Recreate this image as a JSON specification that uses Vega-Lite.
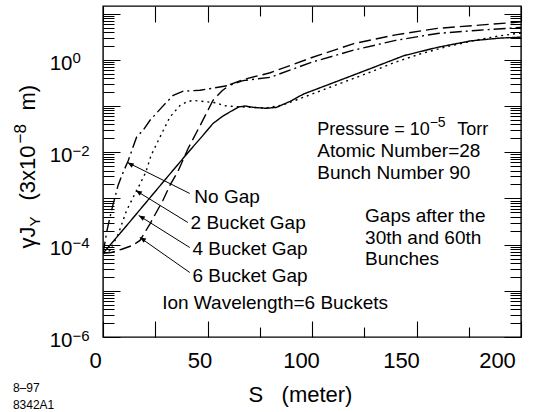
{
  "$schema": "https://vega.github.io/schema/vega-lite/v6.json",
  "width": 418,
  "height": 331,
  "autosize": {"type": "none"},
  "padding": {"left": 103, "top": 6, "right": 20, "bottom": 75},
  "config": {
    "view": {"stroke": "#000", "strokeWidth": 1.4},
    "font": "Liberation Sans",
    "text": {"font": "Liberation Sans", "color": "#000"}
  },
  "datasets": {
    "curves": [
      {"series": "No Gap", "s": 0, "v": 6.46e-5},
      {"series": "No Gap", "s": 1.9, "v": 2.0e-4},
      {"series": "No Gap", "s": 4.3, "v": 6.03e-4},
      {"series": "No Gap", "s": 7.2, "v": 1.91e-3},
      {"series": "No Gap", "s": 9.5, "v": 3.55e-3},
      {"series": "No Gap", "s": 12.1, "v": 6.61e-3},
      {"series": "No Gap", "s": 16.1, "v": 0.0214},
      {"series": "No Gap", "s": 19.1, "v": 0.0295},
      {"series": "No Gap", "s": 22.5, "v": 0.049},
      {"series": "No Gap", "s": 28.1, "v": 0.0933},
      {"series": "No Gap", "s": 33.6, "v": 0.17},
      {"series": "No Gap", "s": 38.4, "v": 0.209},
      {"series": "No Gap", "s": 46.4, "v": 0.219},
      {"series": "No Gap", "s": 54.4, "v": 0.251},
      {"series": "No Gap", "s": 60.8, "v": 0.282},
      {"series": "No Gap", "s": 67, "v": 0.355},
      {"series": "No Gap", "s": 80, "v": 0.417},
      {"series": "No Gap", "s": 100, "v": 0.891},
      {"series": "No Gap", "s": 120, "v": 1.62},
      {"series": "No Gap", "s": 140, "v": 2.63},
      {"series": "No Gap", "s": 160, "v": 3.72},
      {"series": "No Gap", "s": 180, "v": 4.37},
      {"series": "No Gap", "s": 200, "v": 5.01},
      {"series": "2 Bucket Gap", "s": 0, "v": 6.46e-5},
      {"series": "2 Bucket Gap", "s": 3.3, "v": 7.41e-5},
      {"series": "2 Bucket Gap", "s": 7.3, "v": 1.7e-4},
      {"series": "2 Bucket Gap", "s": 11.3, "v": 5.5e-4},
      {"series": "2 Bucket Gap", "s": 15.3, "v": 1.26e-3},
      {"series": "2 Bucket Gap", "s": 17.7, "v": 2.04e-3},
      {"series": "2 Bucket Gap", "s": 20.5, "v": 3.72e-3},
      {"series": "2 Bucket Gap", "s": 23, "v": 8.51e-3},
      {"series": "2 Bucket Gap", "s": 27.3, "v": 0.0214},
      {"series": "2 Bucket Gap", "s": 32, "v": 0.0575},
      {"series": "2 Bucket Gap", "s": 36.8, "v": 0.102},
      {"series": "2 Bucket Gap", "s": 40, "v": 0.123},
      {"series": "2 Bucket Gap", "s": 43.2, "v": 0.132},
      {"series": "2 Bucket Gap", "s": 49.6, "v": 0.123},
      {"series": "2 Bucket Gap", "s": 54.4, "v": 0.117},
      {"series": "2 Bucket Gap", "s": 57.6, "v": 0.102},
      {"series": "2 Bucket Gap", "s": 62.3, "v": 0.0977},
      {"series": "2 Bucket Gap", "s": 70, "v": 0.0933},
      {"series": "2 Bucket Gap", "s": 78.3, "v": 0.0912},
      {"series": "2 Bucket Gap", "s": 86, "v": 0.105},
      {"series": "2 Bucket Gap", "s": 94.3, "v": 0.145},
      {"series": "2 Bucket Gap", "s": 110, "v": 0.269},
      {"series": "2 Bucket Gap", "s": 126, "v": 0.501},
      {"series": "2 Bucket Gap", "s": 140, "v": 0.891},
      {"series": "2 Bucket Gap", "s": 152, "v": 1.35},
      {"series": "2 Bucket Gap", "s": 165, "v": 1.95},
      {"series": "2 Bucket Gap", "s": 179, "v": 2.69},
      {"series": "2 Bucket Gap", "s": 190, "v": 3.31},
      {"series": "2 Bucket Gap", "s": 200, "v": 3.8},
      {"series": "4 Bucket Gap", "s": 0, "v": 6.46e-5},
      {"series": "4 Bucket Gap", "s": 10, "v": 2.19e-4},
      {"series": "4 Bucket Gap", "s": 20, "v": 7.59e-4},
      {"series": "4 Bucket Gap", "s": 30, "v": 2.63e-3},
      {"series": "4 Bucket Gap", "s": 41.6, "v": 0.011},
      {"series": "4 Bucket Gap", "s": 47, "v": 0.0209},
      {"series": "4 Bucket Gap", "s": 52.6, "v": 0.0417},
      {"series": "4 Bucket Gap", "s": 57, "v": 0.0589},
      {"series": "4 Bucket Gap", "s": 61, "v": 0.0759},
      {"series": "4 Bucket Gap", "s": 65, "v": 0.0955},
      {"series": "4 Bucket Gap", "s": 68, "v": 0.1},
      {"series": "4 Bucket Gap", "s": 72, "v": 0.0933},
      {"series": "4 Bucket Gap", "s": 78, "v": 0.0891},
      {"series": "4 Bucket Gap", "s": 83, "v": 0.0933},
      {"series": "4 Bucket Gap", "s": 89.5, "v": 0.126},
      {"series": "4 Bucket Gap", "s": 96, "v": 0.182},
      {"series": "4 Bucket Gap", "s": 110, "v": 0.316},
      {"series": "4 Bucket Gap", "s": 128, "v": 0.646},
      {"series": "4 Bucket Gap", "s": 144, "v": 1.23},
      {"series": "4 Bucket Gap", "s": 160, "v": 1.86},
      {"series": "4 Bucket Gap", "s": 176, "v": 2.57},
      {"series": "4 Bucket Gap", "s": 190, "v": 2.95},
      {"series": "4 Bucket Gap", "s": 200, "v": 3.09},
      {"series": "6 Bucket Gap", "s": 0, "v": 6.46e-5},
      {"series": "6 Bucket Gap", "s": 4, "v": 6.76e-5},
      {"series": "6 Bucket Gap", "s": 9, "v": 7.94e-5},
      {"series": "6 Bucket Gap", "s": 14, "v": 9.55e-5},
      {"series": "6 Bucket Gap", "s": 17.7, "v": 1.23e-4},
      {"series": "6 Bucket Gap", "s": 22.5, "v": 2.82e-4},
      {"series": "6 Bucket Gap", "s": 28.7, "v": 9.12e-4},
      {"series": "6 Bucket Gap", "s": 32, "v": 1.91e-3},
      {"series": "6 Bucket Gap", "s": 36, "v": 3.98e-3},
      {"series": "6 Bucket Gap", "s": 40.7, "v": 0.012},
      {"series": "6 Bucket Gap", "s": 46.4, "v": 0.0372},
      {"series": "6 Bucket Gap", "s": 52.6, "v": 0.132},
      {"series": "6 Bucket Gap", "s": 57, "v": 0.214},
      {"series": "6 Bucket Gap", "s": 61, "v": 0.295},
      {"series": "6 Bucket Gap", "s": 67, "v": 0.372},
      {"series": "6 Bucket Gap", "s": 80, "v": 0.525},
      {"series": "6 Bucket Gap", "s": 100, "v": 1.12},
      {"series": "6 Bucket Gap", "s": 120, "v": 2.24},
      {"series": "6 Bucket Gap", "s": 140, "v": 3.47},
      {"series": "6 Bucket Gap", "s": 160, "v": 4.79},
      {"series": "6 Bucket Gap", "s": 180, "v": 5.62},
      {"series": "6 Bucket Gap", "s": 200, "v": 6.61}
    ],
    "arrows": [
      {"s": 41.5, "v": 1.28e-3, "s2": 11.8, "v2": 5.98e-3},
      {"s": 40.6, "v": 3.01e-4, "s2": 15.7, "v2": 1.48e-3},
      {"s": 41.5, "v": 8.65e-5, "s2": 17.1, "v2": 4.27e-4},
      {"s": 41.5, "v": 2.49e-5, "s2": 17.6, "v2": 1.43e-4}
    ],
    "notes": [
      {"s": 43.7, "v": 7.76e-4, "t": "No Gap"},
      {"s": 41.9, "v": 2.2e-4, "t": "2 Bucket Gap"},
      {"s": 42.8, "v": 5.81e-5, "t": "4 Bucket Gap"},
      {"s": 42.8, "v": 1.53e-5, "t": "6 Bucket Gap"},
      {"s": 28.3, "v": 4.07e-6, "t": "Ion Wavelength=6 Buckets"},
      {"s": 102.5, "v": 7.8e-3, "t": "Atomic Number=28"},
      {"s": 102.5, "v": 2.65e-3, "t": "Bunch Number 90"},
      {"s": 125.4, "v": 3.05e-4, "t": "Gaps after the"},
      {"s": 125.4, "v": 1.04e-4, "t": "30th and 60th"},
      {"s": 125.4, "v": 3.53e-5, "t": "Bunches"}
    ],
    "pressure": [
      {"s": 102.5, "v": 0.023, "t": "Pressure = 10"},
      {"s": 169.5, "v": 0.023, "t": "Torr"}
    ],
    "pressureExp": [{"s": 156.3, "v": 0.023, "t": "\u22125"}],
    "yticks": [
      {"v": 1, "b": "10", "e": "0"},
      {"v": 0.01, "b": "10", "e": "\u22122"},
      {"v": 0.0001, "b": "10", "e": "\u22124"},
      {"v": 0.000001, "b": "10", "e": "\u22126"}
    ],
    "ytitle": [
      {"s": -32.3, "v": 8.24e-5, "t": "\u03b3J"},
      {"s": -32.3, "v": 9.02e-4, "t": "(3x10"},
      {"s": -32.3, "v": 0.08, "t": "m)"}
    ],
    "ytitleSub": [{"s": -32.3, "v": 2.46e-4, "t": "Y"}],
    "ytitleSup": [{"s": -32.3, "v": 0.0154, "t": "\u22128"}],
    "stamp": [
      {"s": -43.1, "v": 6.3e-8, "t": "8\u201397"},
      {"s": -43.1, "v": 2.83e-8, "t": "8342A1"}
    ]
  },
  "layer": [
    {
      "data": {"name": "curves"},
      "mark": {"type": "line", "strokeWidth": 1.4, "clip": true, "color": "#000"},
      "encoding": {
        "x": {
          "field": "s", "type": "quantitative",
          "scale": {"domain": [0, 200], "nice": false, "zero": false},
          "axis": {
            "orient": "bottom",
            "values": [0, 25, 50, 75, 100, 125, 150, 175, 200],
            "domain": false, "grid": false,
            "tickColor": "#000", "tickWidth": 1.1,
            "tickSize": {"condition": {"test": "datum.value==75||datum.value==125||datum.value==175", "value": -10}, "value": -16},
            "labelExpr": "datum.value % 50 == 0 ? datum.label : ''",
            "labelFont": "Liberation Sans",
            "labelFontSize": 22,
            "labelColor": "#000",
            "labelBaseline": "alphabetic",
            "labelPadding": 46,
            "labelOffset": {"condition": [{"test": "datum.value==200", "value": -24}, {"test": "datum.value==150", "value": -15.5}, {"test": "datum.value==100", "value": -11}], "value": -8},
            "labelFlush": false,
            "labelOverlap": false,
            "title": "S\u00a0\u00a0\u00a0(meter)",
            "titleFont": "Liberation Sans",
            "titleFontSize": 22,
            "titleFontWeight": "normal",
            "titleColor": "#000",
            "titleX": 197,
            "titleY": 64.7,
            "titleAlign": "center",
            "titleBaseline": "alphabetic"
          }
        },
        "y": {
          "field": "v", "type": "quantitative",
          "scale": {"type": "log", "domain": [0.000001, 14.6], "nice": false},
          "axis": {
            "orient": "left",
            "values": [1e-6,2e-6,3e-6,4e-6,5e-6,6e-6,7e-6,8e-6,9e-6,1e-5,2e-5,3e-5,4e-5,5e-5,6e-5,7e-5,8e-5,9e-5,1e-4,2e-4,3e-4,4e-4,5e-4,6e-4,7e-4,8e-4,9e-4,0.001,0.002,0.003,0.004,0.005,0.006,0.007,0.008,0.009,0.01,0.02,0.03,0.04,0.05,0.06,0.07,0.08,0.09,0.1,0.2,0.3,0.4,0.5,0.6,0.7,0.8,0.9,1,2,3,4,5,6,7,8,9,10],
            "domain": false, "grid": false, "labels": false,
            "tickColor": "#000", "tickWidth": 1,
            "tickSize": {"condition": {"test": "abs(log(datum.value)/LN10 - round(log(datum.value)/LN10)) < 0.001", "value": -17}, "value": -11},
            "title": null
          }
        },
        "strokeDash": {
          "field": "series", "type": "nominal",
          "scale": {"domain": ["No Gap", "2 Bucket Gap", "4 Bucket Gap", "6 Bucket Gap"], "range": [[12, 4, 2, 4], [2, 4], [1, 0], [12, 5]]},
          "legend": null
        }
      }
    },
    {
      "data": {"name": "arrows"},
      "mark": {"type": "rule", "color": "#000", "strokeWidth": 1},
      "encoding": {
        "x": {
          "field": "s", "type": "quantitative",
          "axis": {
            "orient": "top",
            "values": [0, 25, 50, 75, 100, 125, 150, 175, 200],
            "domain": false, "grid": false, "labels": false, "title": null,
            "tickColor": "#000", "tickWidth": 1.1,
            "tickSize": {"condition": {"test": "datum.value==75||datum.value==125||datum.value==175", "value": -10}, "value": -16}
          }
        },
        "y": {
          "field": "v", "type": "quantitative",
          "axis": {
            "orient": "right",
            "values": [1e-6,2e-6,3e-6,4e-6,5e-6,6e-6,7e-6,8e-6,9e-6,1e-5,2e-5,3e-5,4e-5,5e-5,6e-5,7e-5,8e-5,9e-5,1e-4,2e-4,3e-4,4e-4,5e-4,6e-4,7e-4,8e-4,9e-4,0.001,0.002,0.003,0.004,0.005,0.006,0.007,0.008,0.009,0.01,0.02,0.03,0.04,0.05,0.06,0.07,0.08,0.09,0.1,0.2,0.3,0.4,0.5,0.6,0.7,0.8,0.9,1,2,3,4,5,6,7,8,9,10],
            "domain": false, "grid": false, "labels": false, "title": null,
            "tickColor": "#000", "tickWidth": 1,
            "tickSize": {"condition": {"test": "abs(log(datum.value)/LN10 - round(log(datum.value)/LN10)) < 0.001", "value": -17}, "value": -11}
          }
        },
        "x2": {"field": "s2"},
        "y2": {"field": "v2"}
      }
    },
    {
      "data": {"name": "arrows"},
      "mark": {"type": "point", "shape": "M0,0 L1,-0.4 L1,0.4 Z", "filled": true, "color": "#000", "size": 150, "angle": 31, "opacity": 1},
      "encoding": {
        "x": {"field": "s2", "type": "quantitative", "axis": null},
        "y": {"field": "v2", "type": "quantitative", "axis": null}
      }
    },
    {
      "data": {"name": "notes"},
      "mark": {"type": "text", "align": "left", "baseline": "alphabetic", "fontSize": 19},
      "encoding": {
        "x": {"field": "s", "type": "quantitative", "axis": null},
        "y": {"field": "v", "type": "quantitative", "axis": null},
        "text": {"field": "t"}
      }
    },
    {
      "data": {"name": "pressure"},
      "mark": {"type": "text", "align": "left", "baseline": "alphabetic", "fontSize": 18},
      "encoding": {
        "x": {"field": "s", "type": "quantitative", "axis": null},
        "y": {"field": "v", "type": "quantitative", "axis": null},
        "text": {"field": "t"}
      }
    },
    {
      "data": {"name": "pressureExp"},
      "mark": {"type": "text", "align": "left", "baseline": "alphabetic", "fontSize": 14, "dy": -8},
      "encoding": {
        "x": {"field": "s", "type": "quantitative", "axis": null},
        "y": {"field": "v", "type": "quantitative", "axis": null},
        "text": {"field": "t"}
      }
    },
    {
      "data": {"name": "yticks"},
      "mark": {"type": "text", "align": "left", "baseline": "alphabetic", "fontSize": 20.5, "dx": -53.3, "dy": 10},
      "encoding": {
        "x": {"datum": 0, "type": "quantitative", "axis": null},
        "y": {"field": "v", "type": "quantitative", "axis": null},
        "text": {"field": "b"}
      }
    },
    {
      "data": {"name": "yticks"},
      "mark": {"type": "text", "align": "left", "baseline": "alphabetic", "fontSize": 15, "dx": -30.5, "dy": 3.5},
      "encoding": {
        "x": {"datum": 0, "type": "quantitative", "axis": null},
        "y": {"field": "v", "type": "quantitative", "axis": null},
        "text": {"field": "e"}
      }
    },
    {
      "data": {"name": "ytitle"},
      "mark": {"type": "text", "align": "left", "baseline": "alphabetic", "fontSize": 22, "angle": 270},
      "encoding": {
        "x": {"field": "s", "type": "quantitative", "axis": null},
        "y": {"field": "v", "type": "quantitative", "axis": null},
        "text": {"field": "t"}
      }
    },
    {
      "data": {"name": "ytitleSub"},
      "mark": {"type": "text", "align": "left", "baseline": "alphabetic", "fontSize": 15, "angle": 270, "dy": 5},
      "encoding": {
        "x": {"field": "s", "type": "quantitative", "axis": null},
        "y": {"field": "v", "type": "quantitative", "axis": null},
        "text": {"field": "t"}
      }
    },
    {
      "data": {"name": "ytitleSup"},
      "mark": {"type": "text", "align": "left", "baseline": "alphabetic", "fontSize": 17, "angle": 270, "dy": -9},
      "encoding": {
        "x": {"field": "s", "type": "quantitative", "axis": null},
        "y": {"field": "v", "type": "quantitative", "axis": null},
        "text": {"field": "t"}
      }
    },
    {
      "data": {"name": "stamp"},
      "mark": {"type": "text", "align": "left", "baseline": "alphabetic", "fontSize": 12},
      "encoding": {
        "x": {"field": "s", "type": "quantitative", "axis": null},
        "y": {"field": "v", "type": "quantitative", "axis": null},
        "text": {"field": "t"}
      }
    }
  ]
}
